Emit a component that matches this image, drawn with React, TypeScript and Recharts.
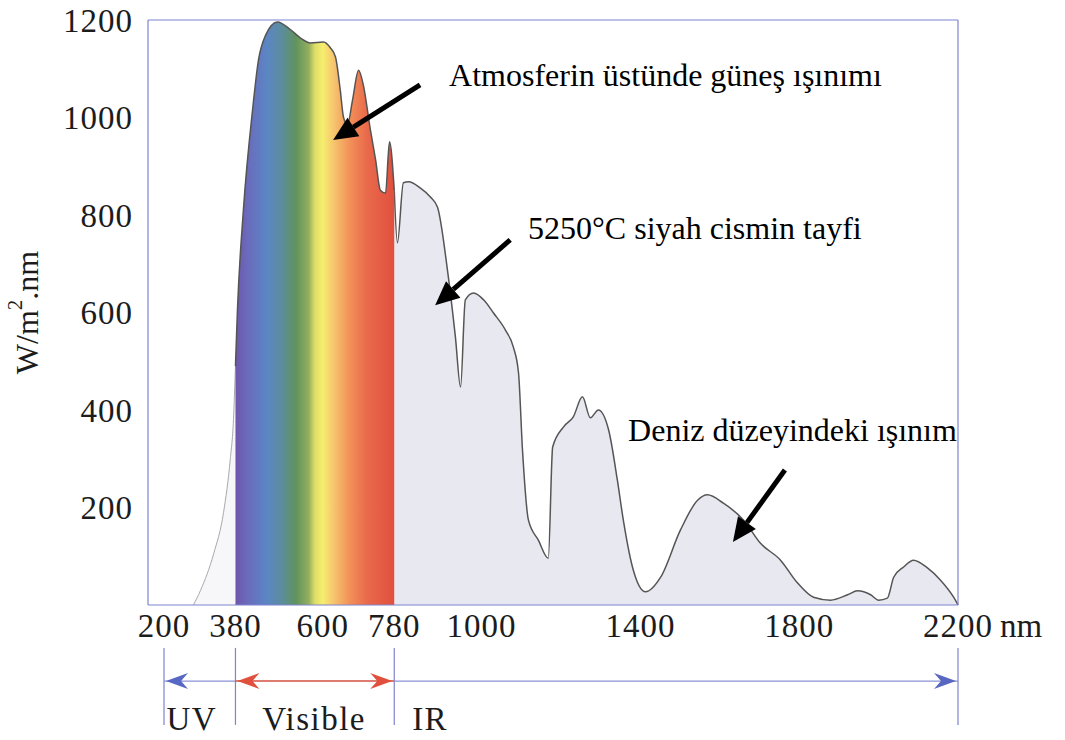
import { ComposedChart, Area, XAxis, YAxis, ReferenceLine, ReferenceDot } from 'recharts';

const FONT = '"Liberation Serif", "Times New Roman", serif';
const FRAME = '#7f83cf';
const INK = '#1c1c1c';

// axis ticks
const nmTicks = [200, 380, 600, 780, 1000, 1400, 1800, 2200];
const irradianceTicks = [200, 400, 600, 800, 1000, 1200];

// spectrum (nm, W/m2.nm)
const uvWavelengths = [274, 292, 325, 350, 367, 375, 380];
const uvIrradiance = [0, 30, 105, 190, 300, 380, 490];

const visWavelengths = [380, 385, 400, 423, 438, 456, 486, 519, 544, 569, 602, 619, 632, 644, 652, 662, 675, 690, 702, 720, 733, 745, 758, 768, 780];
const visIrradiance = [490, 605, 810, 1015, 1118, 1169, 1196, 1180, 1163, 1153, 1155, 1143, 1124, 1056, 1001, 985, 1036, 1097, 1067, 974, 913, 851, 845, 950, 850];

const irWavelengths = [780, 788, 803, 816, 846, 871, 889, 914, 934, 947, 959, 980, 1005, 1030, 1060, 1080, 1093, 1103, 1118, 1143, 1168, 1179, 1206, 1231, 1254, 1274, 1294, 1320, 1342, 1357, 1380, 1413, 1451, 1501, 1544, 1569, 1609, 1660, 1702, 1753, 1796, 1836, 1879, 1922, 1947, 1980, 2000, 2022, 2038, 2063, 2088, 2123, 2156, 2189, 2200];
const irIrradiance = [850, 743, 866, 868, 855, 837, 816, 687, 550, 447, 626, 640, 626, 599, 564, 529, 476, 318, 174, 133, 96, 324, 365, 386, 427, 384, 400, 359, 256, 174, 78, 27, 57, 154, 215, 226, 209, 174, 127, 92, 45, 16, 10, 21, 29, 21, 10, 14, 57, 78, 92, 76, 51, 16, 0];

// regions under the axis
const bandEdges = [200, 380, 780, 2200];
const bandNames = ['UV', 'Visible', 'IR'];

type Row = { nm: number; uv: number | null; vis: number | null; ir: number | null };

const rowMap = new Map<number, Row>();
const put = (xs: number[], ys: number[], key: 'uv' | 'vis' | 'ir') => {
  xs.forEach((x, i) => {
    const r = rowMap.get(x) ?? { nm: x, uv: null, vis: null, ir: null };
    r[key] = ys[i];
    rowMap.set(x, r);
  });
};
put(uvWavelengths, uvIrradiance, 'uv');
put(visWavelengths, visIrradiance, 'vis');
put(irWavelengths, irIrradiance, 'ir');
const data = [...rowMap.values()].sort((a, b) => a.nm - b.nm);

const callouts = [
  { text: 'Atmosferin üstünde güneş ışınımı', at: { x: 918, y: 1065 }, from: { x: 845, y: 1067 }, to: { x: 626, y: 954 } },
  { text: '5250°C siyah cismin tayfi', at: { x: 1117, y: 751 }, from: { x: 1072, y: 749 }, to: { x: 883, y: 615 } },
  { text: 'Deniz düzeyindeki ışınım', at: { x: 1369, y: 336 }, from: { x: 1764, y: 277 }, to: { x: 1633, y: 129 } },
];

const XTick = ({ x, y, payload }: any) => (
  <g>
    <text x={x} y={y} dy={32} textAnchor="middle" fontFamily={FONT} fontSize={33} fill={INK} letterSpacing={1}>
      {payload.value}
    </text>
    {payload.value === 2200 && (
      <text x={x + 42} y={y} dy={32} textAnchor="start" fontFamily={FONT} fontSize={33} fill={INK}>
        nm
      </text>
    )}
  </g>
);

const YTick = ({ x, y, payload }: any) => (
  <text x={x - 15} y={y} dy="0.36em" textAnchor="end" fontFamily={FONT} fontSize={33} fill={INK} letterSpacing={1}>
    {payload.value}
  </text>
);

const YLabel = ({ viewBox }: any) => {
  const cx = viewBox.x + 27;
  const cy = viewBox.y + viewBox.height / 2;
  return (
    <text x={cx} y={cy} transform={`rotate(-90 ${cx} ${cy})`} textAnchor="middle" dominantBaseline="central" fontFamily={FONT} fontSize={32} fill={INK}>
      W/m<tspan baselineShift="super" fontSize={21}>2</tspan>.nm
    </text>
  );
};

const BlackArrow = ({ x1, y1, x2, y2 }: any) => {
  const a = Math.atan2(y2 - y1, x2 - x1);
  const L = 24;
  const W = 11;
  const bx = x2 - L * Math.cos(a);
  const by = y2 - L * Math.sin(a);
  const px = -Math.sin(a) * W;
  const py = Math.cos(a) * W;
  return (
    <g>
      <line x1={x1} y1={y1} x2={bx} y2={by} stroke="#000" strokeWidth={5} />
      <polygon points={`${x2},${y2} ${bx + px},${by + py} ${bx - px},${by - py}`} fill="#000" />
    </g>
  );
};

const head = (tx: number, ty: number, dir: number, color: string) => {
  const L = 22;
  const H = 8;
  const N = 7;
  return (
    <path
      d={`M${tx},${ty} L${tx - dir * L},${ty - H} L${tx - dir * (L - N)},${ty} L${tx - dir * L},${ty + H} Z`}
      fill={color}
    />
  );
};

const bandArrow = (color: string, lineColor: string, heads: 'start' | 'end' | 'both', width: number) => ({ x1, y1, x2, y2 }: any) => (
  <g>
    <line x1={x1} y1={y1} x2={x2} y2={y2} stroke={lineColor} strokeWidth={width} />
    {(heads === 'start' || heads === 'both') && head(x1 + 2, y1, -1, color)}
    {(heads === 'end' || heads === 'both') && head(x2 - 2, y2, 1, color)}
  </g>
);

const bandStyles = [
  { color: '#5667c4', line: '#8a92d6', heads: 'start' as const, width: 1.2 },
  { color: '#e0503c', line: '#d4503f', heads: 'both' as const, width: 1.6 },
  { color: '#5a67c2', line: '#8a92d6', heads: 'end' as const, width: 1.2 },
];
const bandLabelAt = [
  { x: 270, anchor: 'middle' },
  { x: 578, anchor: 'middle' },
  { x: 825, anchor: 'start' },
];

export default function App() {
  return (
    <div style={{ position: 'absolute', left: 0, top: 0, width: 1065, height: 740, background: '#fff' }}>
      <ComposedChart width={1065} height={740} data={data} margin={{ top: 20, right: 107, bottom: 90, left: 0 }}>
        <defs>
          <linearGradient id="rainbow" x1="0" y1="0" x2="1" y2="0">
            <stop offset="0" stopColor="#6e56ab" />
            <stop offset="0.08" stopColor="#6a6cbd" />
            <stop offset="0.2" stopColor="#5b86c4" />
            <stop offset="0.3" stopColor="#5c8d98" />
            <stop offset="0.38" stopColor="#5f935d" />
            <stop offset="0.46" stopColor="#93ae5e" />
            <stop offset="0.5" stopColor="#dcdd68" />
            <stop offset="0.55" stopColor="#f7ee6e" />
            <stop offset="0.62" stopColor="#f6c46e" />
            <stop offset="0.72" stopColor="#f29058" />
            <stop offset="0.83" stopColor="#e9694b" />
            <stop offset="1" stopColor="#e0503e" />
          </linearGradient>
        </defs>
        <XAxis
          dataKey="nm"
          type="number"
          domain={[200, 2200]}
          ticks={nmTicks}
          padding={{ left: 16 }}
          height={45}
          tickSize={0}
          tickMargin={0}
          tickLine={false}
          tick={<XTick />}
          axisLine={{ stroke: FRAME, strokeWidth: 1.2 }}
          interval={0}
        />
        <YAxis
          type="number"
          domain={[0, 1200]}
          ticks={irradianceTicks}
          width={148}
          tickSize={0}
          tickMargin={0}
          tickLine={false}
          tick={<YTick />}
          axisLine={{ stroke: FRAME, strokeWidth: 1.2 }}
          interval={0}
          label={<YLabel />}
        />

        {/* top and right sides of the frame */}
        <ReferenceLine y={1200} stroke={FRAME} strokeWidth={1.2} ifOverflow="visible" />
        <ReferenceLine x={2200} stroke={FRAME} strokeWidth={1.2} ifOverflow="visible" />

        <Area type="monotone" dataKey="uv" stroke="#a9a9ae" strokeWidth={1} fill="#f7f7fa" fillOpacity={1} isAnimationActive={false} dot={false} activeDot={false} />
        <Area type="monotone" dataKey="ir" stroke="#555" strokeWidth={1.5} fill="#e8e8f1" fillOpacity={1} isAnimationActive={false} dot={false} activeDot={false} />
        <Area type="monotone" dataKey="vis" stroke="#555" strokeWidth={1.5} fill="url(#rainbow)" fillOpacity={1} isAnimationActive={false} dot={false} activeDot={false} />

        {callouts.map((c) => (
          <ReferenceLine key={c.text + '-arrow'} segment={[c.from, c.to]} ifOverflow="visible" shape={<BlackArrow />} />
        ))}
        {callouts.map((c) => (
          <ReferenceDot
            key={c.text}
            x={c.at.x}
            y={c.at.y}
            ifOverflow="visible"
            shape={(p: any) => (
              <text x={p.cx} y={p.cy} fontFamily={FONT} fontSize={32} fill="#000">
                {c.text}
              </text>
            )}
          />
        ))}

        {bandEdges.map((e) => (
          <ReferenceLine key={'edge' + e} segment={[{ x: e, y: -88 }, { x: e, y: -246 }]} ifOverflow="visible" stroke={FRAME} strokeWidth={1.2} />
        ))}
        {bandNames.map((name, i) => (
          <ReferenceLine
            key={name + '-arrow'}
            segment={[{ x: bandEdges[i], y: -156 }, { x: bandEdges[i + 1], y: -156 }]}
            ifOverflow="visible"
            shape={bandArrow(bandStyles[i].color, bandStyles[i].line, bandStyles[i].heads, bandStyles[i].width)}
          />
        ))}
        {bandNames.map((name, i) => (
          <ReferenceDot
            key={name}
            x={bandLabelAt[i].x}
            y={-256}
            ifOverflow="visible"
            shape={(p: any) => (
              <text x={p.cx} y={p.cy} textAnchor={bandLabelAt[i].anchor as any} fontFamily={FONT} fontSize={33} letterSpacing={1.5} fill={INK}>
                {name}
              </text>
            )}
          />
        ))}
      </ComposedChart>
    </div>
  );
}
